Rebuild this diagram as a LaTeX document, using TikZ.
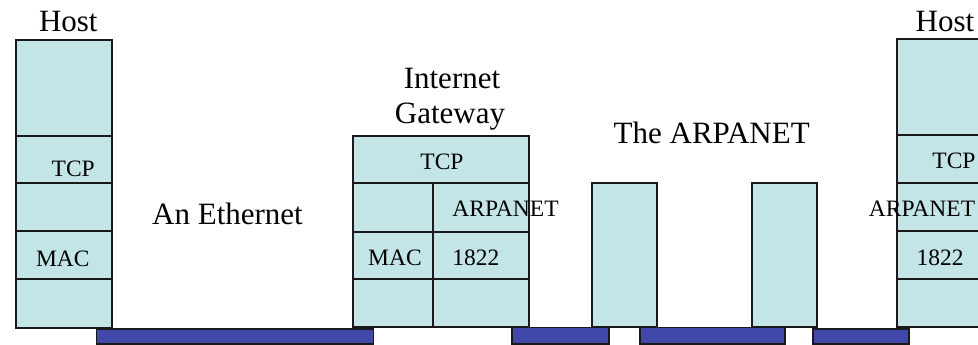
\documentclass[tikz,border=0pt]{standalone}
\usepackage{fontspec}
\setmainfont{Liberation Serif}
\definecolor{layerfill}{RGB}{196,229,231}
\definecolor{linkfill}{RGB}{66,72,170}
\definecolor{edge}{RGB}{25,25,25}
\begin{document}
\begin{tikzpicture}[x=1pt,y=-1pt,
  layerfillonly/.style={fill=layerfill},
  layerline/.style={draw=edge,line width=2pt},
  linkbar/.style={draw=edge,line width=1.8pt,fill=linkfill},
  bigtext/.style={font=\fontsize{31}{36}\selectfont,inner sep=0pt,anchor=base},
  smalltext/.style={font=\fontsize{23.5}{28}\selectfont,inner sep=0pt,anchor=base}]
\useasboundingbox (0,0) rectangle (978,345);
\clip (0,0) rectangle (978,345);

% left host protocol stack
\fill[layerfillonly] (16,40) rectangle (112,327.5);
\foreach \yy in {136,183.3,231.3,279.3}
  \draw[layerline] (16,\yy) -- (112,\yy);
\draw[layerline] (16,40) rectangle (112,327.5);

% internet gateway
\fill[layerfillonly] (352.5,135.5) rectangle (529,327);
\foreach \yy in {183.3,231.5,279.3}
  \draw[layerline] (352.5,\yy) -- (529,\yy);
\draw[layerline] (432.7,183.3) -- (432.7,327);
\draw[layerline] (352.5,135.5) rectangle (529,327);

% ARPANET IMPs
\draw[layerline,fill=layerfill] (592.3,183.3) rectangle (657,327);
\draw[layerline,fill=layerfill] (752.3,183.3) rectangle (816.7,327);

% right host protocol stack
\fill[layerfillonly] (896.7,39.5) rectangle (993,327.3);
\foreach \yy in {135.3,182.7,231.3,279.3}
  \draw[layerline] (896.7,\yy) -- (993,\yy);
\draw[layerline] (896.7,39.5) rectangle (993,327.3);

% network links
\draw[linkbar] (96.5,329) rectangle (373.5,344.3);
\draw[linkbar] (512.3,327.5) rectangle (609,344);
\draw[linkbar] (640,327.5) rectangle (785,344);
\draw[linkbar] (813.3,329) rectangle (909.3,344.3);

% labels
\node[bigtext] (hostL) at (68.3,31.7) {Host};
\node[bigtext] (hostR) at (945,31.7) {Host};
\node[bigtext] (gwA) at (452,88.3) {Internet};
\node[bigtext] (gwB) at (450,123.3) {Gateway};
\node[bigtext] (ether) at (227.5,224.3) {An Ethernet};
\node[bigtext] (arpa) at (711.7,143.3) {The ARPANET};

\node[smalltext] (tcpL) at (73.2,176.7) {TCP};
\node[smalltext] (macL) at (62.8,266.5) {MAC};

\node[smalltext] (tcpG) at (442,169.3) {TCP};
\node[smalltext] (macG) at (395,265) {MAC};
\node[smalltext] (arpG) at (505.5,216.7) {ARPANET};
\node[smalltext] (impG) at (475.8,265) {1822};

\node[smalltext] (tcpR) at (954,168.3) {TCP};
\node[smalltext] (arpR) at (922,216.7) {ARPANET};
\node[smalltext] (impR) at (940,265) {1822};
\end{tikzpicture}
\end{document}
